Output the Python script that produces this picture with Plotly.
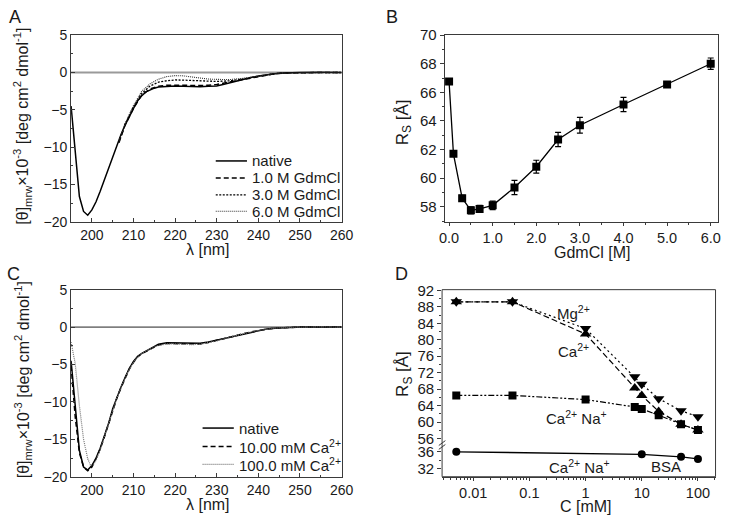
import plotly.graph_objects as go

# ---------------- Panel A data ----------------
wl_A_native = [195, 196, 197, 198, 199, 200, 201, 202, 203, 204, 205, 206, 207, 208, 209, 210, 211, 212, 213, 214,
               215, 216, 218, 220, 222, 224, 226, 228, 230, 232, 234, 236, 238, 240, 242, 244, 246, 248, 250, 255, 260]
th_A_native = [-4.5, -11.0, -16.6, -18.6, -19.1, -18.4, -17.3, -15.9, -14.4, -12.8, -11.2, -9.8, -8.3, -7.0, -5.8,
               -4.8, -3.8, -3.1, -2.6, -2.3, -2.1, -1.95, -1.85, -1.8, -1.85, -1.9, -1.9, -1.85, -1.8, -1.55, -1.25,
               -0.95, -0.7, -0.48, -0.3, -0.17, -0.08, -0.03, 0.0, 0.02, 0.0]
wl_A_gdm = [206.5, 208, 210, 212, 214, 216, 218, 220, 222, 224, 226, 228, 230, 233, 236, 240, 244, 248, 252, 256, 260]
th_A_1M = [-9.4, -7.0, -4.8, -3.0, -2.2, -1.85, -1.7, -1.65, -1.7, -1.75, -1.75, -1.72, -1.6, -1.3, -0.95, -0.5,
           -0.15, -0.03, 0.0, 0.01, 0.0]
th_A_3M = [-9.3, -6.9, -4.6, -2.8, -1.8, -1.3, -1.1, -1.0, -1.02, -1.08, -1.15, -1.2, -1.2, -1.12, -0.9, -0.5,
           -0.15, -0.03, 0.0, 0.01, 0.0]
th_A_6M = [-9.2, -6.8, -4.4, -2.5, -1.5, -0.9, -0.55, -0.42, -0.45, -0.6, -0.78, -0.88, -0.92, -0.95, -0.8, -0.5,
           -0.15, -0.03, 0.0, 0.01, 0.0]
names_A = ["native", "1.0 M GdmCl", "3.0 M GdmCl", "6.0 M GdmCl"]

# ---------------- Panel B data ----------------
gdm_B = [0.0, 0.1, 0.3, 0.5, 0.7, 1.0, 1.5, 2.0, 2.5, 3.0, 4.0, 5.0, 6.0]
rs_B = [66.75, 61.7, 58.6, 57.75, 57.85, 58.1, 59.35, 60.8, 62.7, 63.7, 65.15, 66.55, 68.0]
err_B = [0.1, 0.1, 0.2, 0.25, 0.25, 0.3, 0.5, 0.45, 0.5, 0.55, 0.5, 0.15, 0.4]

# ---------------- Panel C data ----------------
wl_C = [195, 196, 197, 198, 199, 200, 201, 202, 203, 204, 205, 206, 207, 208, 209, 210, 211, 212, 213, 214,
        215, 216, 218, 220, 222, 224, 226, 228, 230, 232, 234, 236, 238, 240, 242, 244, 246, 248, 250, 255, 260]
th_C_native = [-4.5, -11.0, -16.5, -18.7, -19.1, -18.5, -17.5, -16.2, -14.6, -12.9, -10.9, -9.4, -8.0, -6.7, -5.5,
               -4.6, -3.9, -3.5, -3.2, -2.85, -2.5, -2.3, -2.1, -2.1, -2.2, -2.2, -2.15, -2.0, -1.75, -1.45, -1.2,
               -0.95, -0.68, -0.45, -0.26, -0.15, -0.07, -0.02, 0.0, 0.02, 0.0]
th_C_10 = [-5.2, -12.0, -16.8, -18.7, -19.2, -18.7, -17.6, -16.3, -14.7, -13.0, -11.1, -9.5, -8.1, -6.8, -5.6,
           -4.7, -4.0, -3.55, -3.25, -2.9, -2.6, -2.4, -2.2, -2.2, -2.3, -2.3, -2.25, -2.05, -1.8, -1.5, -1.2,
           -0.95, -0.68, -0.45, -0.27, -0.15, -0.07, -0.02, 0.0, 0.02, 0.0]
wl_C_100 = [195, 196, 197, 198, 199, 199.7, 200.5, 201, 202, 203, 204, 205, 206, 207, 208, 209, 210, 211, 212, 213,
            214, 215, 216, 218, 220, 222, 224, 226, 228, 230, 232, 234, 236, 238, 240, 242, 244, 246, 248, 250, 255,
            260]
th_C_100 = [-2.0, -4.9, -10.5, -15.0, -17.6, -18.5, -18.3, -17.8, -16.4, -14.7, -13.0, -11.1, -9.5, -8.1, -6.8,
            -5.6, -4.7, -4.0, -3.55, -3.25, -2.9, -2.65, -2.45, -2.25, -2.25, -2.3, -2.35, -2.3, -2.1, -1.85, -1.5,
            -1.2, -0.95, -0.68, -0.45, -0.27, -0.15, -0.07, -0.02, 0.0, 0.02, 0.0]
names_C = ["native", "10.00 mM Ca<sup>2+</sup>", "100.0 mM Ca<sup>2+</sup>"]

# ---------------- Panel D data ----------------
conc_D = [0.005, 0.05, 1, 7.5, 10, 20, 50, 100]
rs_Mg = [89.2, 89.2, 82.7, 71.0, 69.2, 65.7, 62.8, 61.3]
rs_Ca = [89.2, 89.2, 81.4, 68.3, 66.5, 62.6, 59.5, 58.1]
rs_CaNa = [66.5, 66.5, 65.5, 63.7, 63.2, 61.7, 59.5, 58.1]
conc_BSA = [0.005, 10, 50, 100]
rs_BSA = [36.0, 35.4, 34.8, 34.3]
x_ticks_D = [0.01, 0.1, 1, 10, 100]
x_ticktext_D = ["0.01", "0.1", "1", "10", "100"]

W, H = 737, 528
FONT = "Liberation Sans, Arial, sans-serif"
INK = "#1a1a1a"
FRAME = "#3a3a3a"


def px_x(p):
    return p / W


def px_y(p):
    return 1 - p / H


dom_A_x = [px_x(66.7), px_x(344)]
dom_B_x = [px_x(449.7), px_x(729.5)]
dom_top_y = [px_y(220), px_y(27)]
dom_bot_y = [px_y(483.3), px_y(290)]
dom_D_x = [px_x(447), px_x(727.3)]
dom_D_up = [px_y(450), px_y(290)]
dom_D_lo = [px_y(483.3), px_y(450)]

# line styles (shared by traces and their legend samples)
st_native = dict(color="black", width=1.5)
st_1M = dict(color="black", width=1.5, dash="5px,3px")
st_3M = dict(color="black", width=1.3, dash="2px,1.5px")
st_6M = dict(color="#333", width=1.1, dash="1px,1px")
st_C100 = dict(color="#777", width=1.2, dash="1px,1px")

fig = go.Figure()

# Panel A traces
for xs, ys, st in [(wl_A_native, th_A_native, st_native), (wl_A_gdm, th_A_1M, st_1M),
                   (wl_A_gdm, th_A_3M, st_3M), (wl_A_gdm, th_A_6M, st_6M)]:
    fig.add_trace(go.Scatter(x=xs, y=ys, mode="lines", showlegend=False, line=st, xaxis="x", yaxis="y"))

# Panel B
fig.add_trace(go.Scatter(x=gdm_B, y=rs_B, mode="lines+markers", showlegend=False,
                         line=dict(color="black", width=1.3),
                         marker=dict(symbol="square", size=8, color="black"),
                         error_y=dict(type="data", array=err_B, color="black", thickness=1.2, width=3),
                         xaxis="x2", yaxis="y2"))

# Panel C
for xs, ys, st in [(wl_C, th_C_native, st_native), (wl_C, th_C_10, st_1M), (wl_C_100, th_C_100, st_C100)]:
    fig.add_trace(go.Scatter(x=xs, y=ys, mode="lines", showlegend=False, line=st, xaxis="x3", yaxis="y3"))

# Panel D
fig.add_trace(go.Scatter(x=conc_D, y=rs_CaNa, mode="lines+markers", showlegend=False,
                         line=dict(color="black", width=1.2, dash="6px,2px,2px,2px,2px,2px"),
                         marker=dict(symbol="square", size=8, color="black"), xaxis="x4", yaxis="y4"))
fig.add_trace(go.Scatter(x=conc_D, y=rs_Mg, mode="lines+markers", showlegend=False,
                         line=dict(color="black", width=1.2, dash="2px,3px"),
                         marker=dict(symbol="triangle-down", size=10, color="black"), xaxis="x4", yaxis="y4"))
fig.add_trace(go.Scatter(x=conc_D, y=rs_Ca, mode="lines+markers", showlegend=False,
                         line=dict(color="black", width=1.2, dash="6px,3px"),
                         marker=dict(symbol="triangle-up", size=10, color="black"), xaxis="x4", yaxis="y4"))
fig.add_trace(go.Scatter(x=conc_BSA, y=rs_BSA, mode="lines+markers", showlegend=False,
                         line=dict(color="black", width=1.3),
                         marker=dict(symbol="circle", size=8, color="black"), xaxis="x4", yaxis="y5"))

tf_small = dict(family=FONT, size=14, color=INK)
tf_big = dict(family=FONT, size=15, color=INK)
tf_x = dict(family=FONT, size=14.5, color=INK)
base = dict(showgrid=False, zeroline=False, showline=True, linecolor=FRAME, linewidth=1, mirror=True,
            tickcolor=FRAME)

fig.update_layout(
    width=W, height=H,
    margin=dict(l=0, r=0, t=0, b=0),
    paper_bgcolor="white", plot_bgcolor="white",
    font=dict(family=FONT, color=INK),
    showlegend=False,
    xaxis=dict(domain=dom_A_x, anchor="y", range=[195, 260], dtick=10, ticks="inside", ticklen=4,
               tickfont=tf_small, minor=dict(dtick=5, ticks="inside", ticklen=2, tickcolor=FRAME), **base),
    yaxis=dict(domain=dom_top_y, anchor="x", range=[-20, 5], dtick=5, ticks="inside", ticklen=4,
               tickfont=tf_small, minor=dict(dtick=2.5, ticks="inside", ticklen=2, tickcolor=FRAME), **base),
    xaxis2=dict(domain=dom_B_x, anchor="y2", range=[-0.1, 6.16], dtick=1, tickformat=".1f", ticks="outside",
                ticklen=3, tickfont=tf_x,
                minor=dict(dtick=0.5, ticks="outside", ticklen=2, tickcolor=FRAME), **base),
    yaxis2=dict(domain=dom_top_y, anchor="x2", range=[56.94, 70], tick0=58, dtick=2, ticks="outside",
                ticklen=4, tickfont=tf_big,
                minor=dict(dtick=1, ticks="outside", ticklen=2, tickcolor=FRAME), **base),
    xaxis3=dict(domain=dom_A_x, anchor="y3", range=[195, 260], dtick=10, ticks="inside", ticklen=4,
                tickfont=tf_small, minor=dict(dtick=5, ticks="inside", ticklen=2, tickcolor=FRAME), **base),
    yaxis3=dict(domain=dom_bot_y, anchor="x3", range=[-20, 5], dtick=5, ticks="inside", ticklen=4,
                tickfont=tf_small, minor=dict(dtick=2.5, ticks="inside", ticklen=2, tickcolor=FRAME), **base),
    xaxis4=dict(domain=dom_D_x, anchor="y5", type="log", range=[-2.554, 2.313], tickvals=x_ticks_D,
                ticktext=x_ticktext_D, ticks="outside", ticklen=3, showgrid=False, zeroline=False,
                showline=True, linecolor=FRAME, mirror=False, tickfont=tf_x, tickcolor=FRAME,
                minor=dict(tickvals=[m * d for d in [0.001, 0.01, 0.1, 1, 10, 100] for m in range(2, 10)],
                           ticks="outside", ticklen=2, tickcolor=FRAME)),
    yaxis4=dict(domain=dom_D_up, anchor="x4", range=[54.59, 92.15], tick0=56, dtick=4, ticks="outside",
                ticklen=4, showgrid=False, zeroline=False, showline=False, tickfont=tf_big, tickcolor=FRAME,
                minor=dict(dtick=2, ticks="outside", ticklen=2, tickcolor=FRAME)),
    yaxis5=dict(domain=dom_D_lo, anchor="x4", range=[30.03, 37.74], tickvals=[32, 36], ticks="outside",
                ticklen=4, showgrid=False, zeroline=False, showline=False, tickfont=tf_big, tickcolor=FRAME,
                minor=dict(tickvals=[34], ticks="outside", ticklen=2, tickcolor=FRAME)),
)

shapes = [
    dict(type="line", xref="x domain", yref="y", x0=0, x1=1, y0=0, y1=0, line=dict(color="#9a9a9a", width=2),
         layer="below"),
    dict(type="line", xref="x3 domain", yref="y3", x0=0, x1=1, y0=0, y1=0, line=dict(color="#222", width=1),
         layer="below"),
    # frame of panel D
    dict(type="rect", xref="x4 domain", yref="paper", x0=0, x1=1, y0=dom_D_lo[0], y1=dom_D_up[1],
         line=dict(color=FRAME, width=1)),
    # axis break marks on panel D
    dict(type="line", xref="x4 domain", yref="paper", x0=-0.012, x1=0.012, y0=px_y(451), y1=px_y(446),
         line=dict(color=FRAME, width=1)),
    dict(type="line", xref="x4 domain", yref="paper", x0=-0.012, x1=0.012, y0=px_y(455), y1=px_y(450),
         line=dict(color=FRAME, width=1)),
]

leg_font = dict(family=FONT, size=15, color=INK)
anns = []
# custom legends (line sample + label), panel A and panel C
for name, st, row in zip(names_A, [st_native, st_1M, st_3M, st_6M], [157, 174.5, 192, 209]):
    shapes.append(dict(type="line", xref="paper", yref="paper", x0=px_x(215), x1=px_x(247),
                       y0=px_y(row), y1=px_y(row), line=st))
    anns.append(dict(text=name, x=px_x(250), y=px_y(row), xref="paper", yref="paper", showarrow=False,
                     xanchor="left", yanchor="middle", font=leg_font))
for name, st, row in zip(names_C, [st_native, st_1M, st_C100], [433, 452, 470.5]):
    shapes.append(dict(type="line", xref="paper", yref="paper", x0=px_x(201.5), x1=px_x(233.5),
                       y0=px_y(row), y1=px_y(row), line=st))
    anns.append(dict(text=name, x=px_x(236.5), y=px_y(row), xref="paper", yref="paper", showarrow=False,
                     xanchor="left", yanchor="middle", font=leg_font))
fig.update_layout(shapes=shapes)

t16 = dict(family=FONT, size=16, color=INK)
letter_font = dict(family=FONT, size=18, color=INK)
ylab = "[θ]<sub>mrw</sub>×10<sup>-3</sup> [deg cm<sup>2</sup> dmol<sup>-1</sup>]"
paper_anns = [
    dict(text="A", x=px_x(9), y=px_y(8), font=letter_font),
    dict(text="B", x=px_x(396), y=px_y(8), font=letter_font),
    dict(text="C", x=px_x(8), y=px_y(274), font=letter_font),
    dict(text="D", x=px_x(405), y=px_y(274), font=letter_font),
    dict(text="λ [nm]", x=px_x(207), y=px_y(249), font=t16),
    dict(text="GdmCl [M]", x=px_x(601), y=px_y(252), font=t16),
    dict(text="λ [nm]", x=px_x(207), y=px_y(512), font=t16),
    dict(text="C [mM]", x=px_x(595), y=px_y(514), font=t16),
    dict(text=ylab, x=px_x(17), y=px_y(121), textangle=-90, font=t16),
    dict(text=ylab, x=px_x(17), y=px_y(383), textangle=-90, font=t16),
    dict(text="R<sub>S</sub> [Å]", x=px_x(408), y=px_y(117), textangle=-90, font=dict(family=FONT, size=17,
                                                                                      color=INK)),
    dict(text="R<sub>S</sub> [Å]", x=px_x(408), y=px_y(377), textangle=-90, font=dict(family=FONT, size=17,
                                                                                      color=INK)),
]
for a in paper_anns:
    a.update(xref="paper", yref="paper", showarrow=False, xanchor="center", yanchor="middle")
anns += paper_anns

lab_font = dict(family=FONT, size=15, color=INK)
d_anns = [
    dict(text="Mg<sup>2+</sup>", x=-0.22, y=86.6, xref="x4", yref="y4", font=lab_font),
    dict(text="Ca<sup>2+</sup>", x=-0.22, y=77.4, xref="x4", yref="y4", font=lab_font),
    dict(text="Ca<sup>2+</sup> Na<sup>+</sup>", x=-0.16, y=61.2, xref="x4", yref="y4", font=lab_font),
    dict(text="Ca<sup>2+</sup> Na<sup>+</sup>", x=-0.1, y=32.4, xref="x4", yref="y5", font=lab_font),
    dict(text="BSA", x=1.43, y=32.4, xref="x4", yref="y5", font=lab_font),
]
for a in d_anns:
    a.update(showarrow=False, xanchor="center", yanchor="middle")
anns += d_anns
fig.update_layout(annotations=anns)

fig.write_html("out.html", config={"displayModeBar": False},
               post_script="document.body.style.margin='0px';")
